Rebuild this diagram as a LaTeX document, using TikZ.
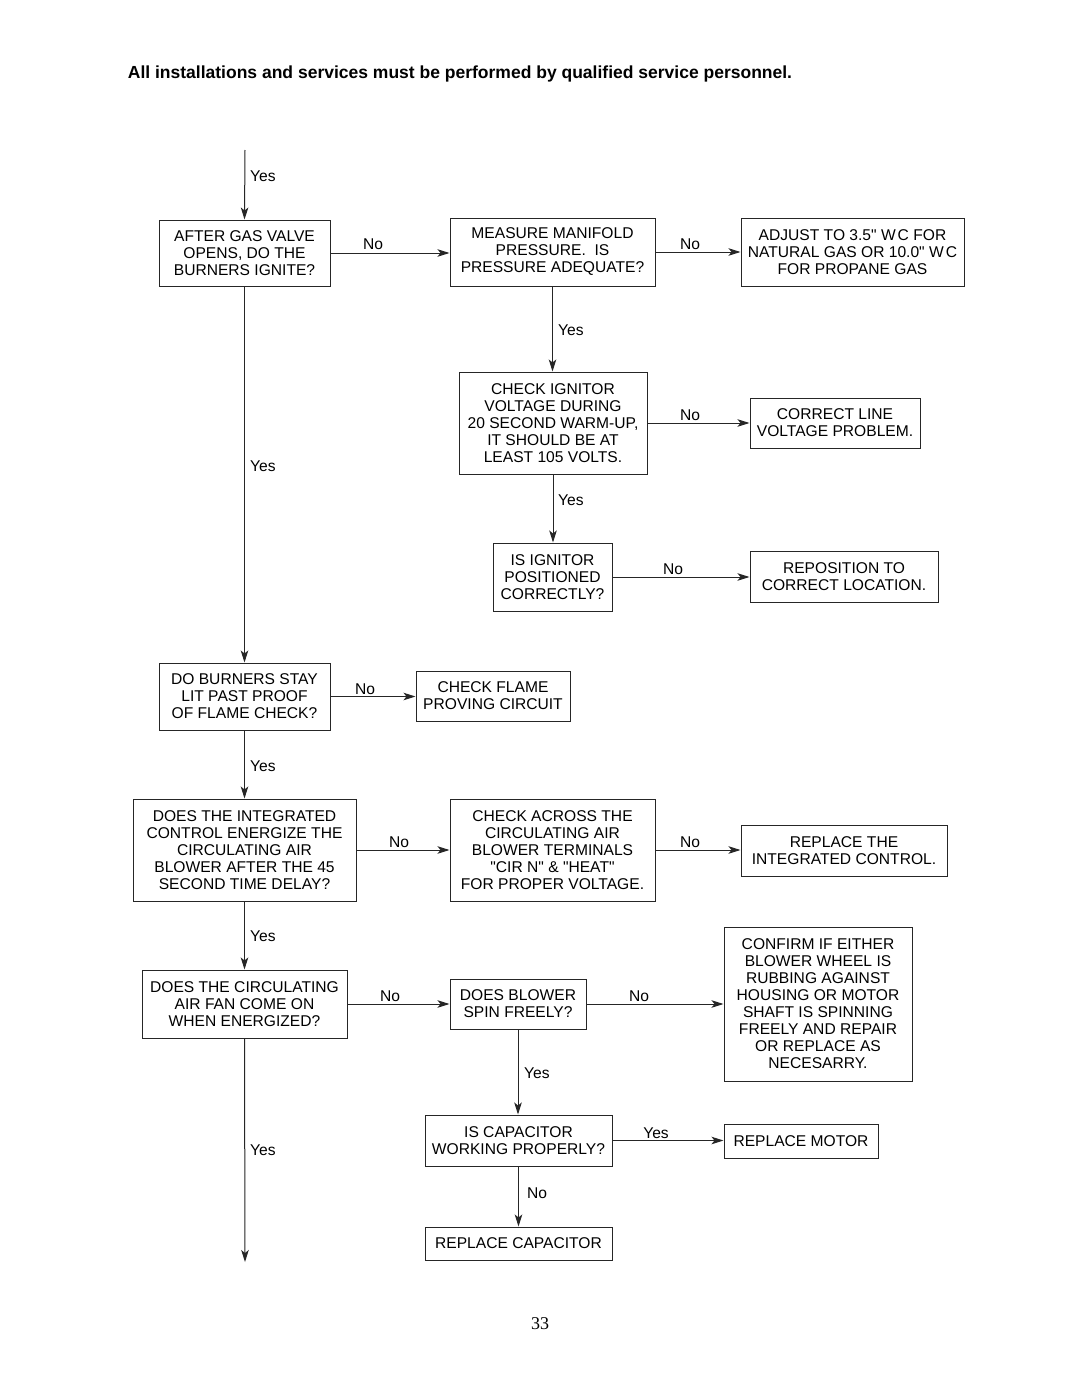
\documentclass[tikz,border=0pt]{standalone}
\usepackage{fontspec}
\setmainfont{Liberation Sans}[Ligatures=TeXOff]
\newfontfamily\pgserif{Liberation Serif}
\usetikzlibrary{arrows.meta}
\newcommand{\dq}{"}
\begin{document}
\begin{tikzpicture}[x=1pt,y=-1pt,
  box/.style={draw=black!85,line width=1pt,align=center,inner sep=0pt,
    font=\fontsize{15.6}{17}\selectfont},
  arr/.style={draw=black!85,line width=1pt,-{Stealth[length=12pt,width=7.5pt,inset=3pt]}},
  lbl/.style={font=\fontsize{15.6}{17}\selectfont,inner sep=0pt}]
\useasboundingbox (0,0) rectangle (1080,1397);
\fill[white] (0,0) rectangle (1080,1397);
\node[font=\bfseries\fontsize{17.5}{20}\selectfont,inner sep=0pt] (title) at (460,74)
  {All installations and services must be performed by qualified service personnel.};
% boxes
\node[box,minimum width=171,minimum height=66] (b1) at (244.5,253) {AFTER GAS VALVE\\OPENS, DO THE\\BURNERS IGNITE?};
\node[box,minimum width=205,minimum height=68] (b2) at (552.5,252) {MEASURE MANIFOLD\\PRESSURE.\ \ IS\\PRESSURE ADEQUATE?};
\node[box,minimum width=223,minimum height=68] (b3) at (852.5,252) {ADJUST TO 3.5\dq{} W\kern2pt C FOR\\NATURAL GAS OR 10.0\dq{} W\kern2pt C\\FOR PROPANE GAS};
\node[box,minimum width=188,minimum height=102] (b4) at (553,423) {CHECK IGNITOR\\VOLTAGE DURING\\20 SECOND WARM-UP,\\IT SHOULD BE AT\\LEAST 105 VOLTS.};
\node[box,minimum width=170,minimum height=50] (b5) at (835,423) {CORRECT LINE\\VOLTAGE PROBLEM.};
\node[box,minimum width=119,minimum height=68] (b6) at (552.5,577) {IS IGNITOR\\POSITIONED\\CORRECTLY?};
\node[box,minimum width=188,minimum height=51] (b7) at (844,576.5) {REPOSITION TO\\CORRECT LOCATION.};
\node[box,minimum width=171,minimum height=67] (b8) at (244.5,696.5) {DO BURNERS STAY\\LIT PAST PROOF\\OF FLAME CHECK?};
\node[box,minimum width=154,minimum height=50] (b9) at (493,696) {CHECK FLAME\\PROVING CIRCUIT};
\node[box,minimum width=223,minimum height=102] (b10) at (244.5,850) {DOES THE INTEGRATED\\CONTROL ENERGIZE THE\\CIRCULATING AIR\\BLOWER AFTER THE 45\\SECOND TIME DELAY?};
\node[box,minimum width=205,minimum height=102] (b11) at (552.5,850) {CHECK ACROSS THE\\CIRCULATING AIR\\BLOWER TERMINALS\\\dq{}CIR N\dq{} \& \dq{}HEAT\dq{}\\FOR PROPER VOLTAGE.};
\node[box,minimum width=206,minimum height=51] (b12) at (844,850.5) {REPLACE THE\\INTEGRATED CONTROL.};
\node[box,minimum width=188,minimum height=154] (b13) at (818,1004) {CONFIRM IF EITHER\\BLOWER WHEEL IS\\RUBBING AGAINST\\HOUSING OR MOTOR\\SHAFT IS SPINNING\\FREELY AND REPAIR\\OR REPLACE AS\\NECESARRY.};
\node[box,minimum width=205,minimum height=68] (b14) at (244.5,1004) {DOES THE CIRCULATING\\AIR FAN COME ON\\WHEN ENERGIZED?};
\node[box,minimum width=136,minimum height=50] (b15) at (518,1004) {DOES BLOWER\\SPIN FREELY?};
\node[box,minimum width=187,minimum height=51] (b16) at (518.5,1140.5) {IS CAPACITOR\\WORKING PROPERLY?};
\node[box,minimum width=154,minimum height=34] (b17) at (801,1141) {REPLACE MOTOR};
\node[box,minimum width=187,minimum height=33] (b18) at (518.5,1243.5) {REPLACE CAPACITOR};
% free ends
\coordinate (top) at (245,150);
\coordinate (bot) at (245,1262);
% connectors
\draw[arr] (top) -- (b1.north);
\draw[arr] (b1.east) -- (b1.east -| b2.west);
\draw[arr] (b2.east) -- (b2.east -| b3.west);
\draw[arr] (b2.south) -- (b2.south |- b4.north);
\draw[arr] (b4.east) -- (b4.east -| b5.west);
\draw[arr] (b4.south) -- (b4.south |- b6.north);
\draw[arr] (b6.east) -- (b6.east -| b7.west);
\draw[arr] (b1.south) -- (b1.south |- b8.north);
\draw[arr] (b8.east) -- (b8.east -| b9.west);
\draw[arr] (b8.south) -- (b8.south |- b10.north);
\draw[arr] (b10.east) -- (b10.east -| b11.west);
\draw[arr] (b11.east) -- (b11.east -| b12.west);
\draw[arr] (b10.south) -- (b10.south |- b14.north);
\draw[arr] (b14.east) -- (b14.east -| b15.west);
\draw[arr] (b15.east) -- (b15.east -| b13.west);
\draw[arr] (b15.south) -- (b15.south |- b16.north);
\draw[arr] (b16.east) -- (b16.east -| b17.west);
\draw[arr] (b16.south) -- (b16.south |- b18.north);
\draw[arr] (b14.south) -- (bot);
% labels
\node[lbl,anchor=west] (l1) at (250,176) {Yes};
\node[lbl] (l2) at (373,244) {No};
\node[lbl] (l3) at (690,244) {No};
\node[lbl,anchor=west] (l4) at (558,330) {Yes};
\node[lbl] (l5) at (690,415) {No};
\node[lbl,anchor=west] (l6) at (558,500) {Yes};
\node[lbl] (l7) at (673,569) {No};
\node[lbl,anchor=west] (l8) at (250,466) {Yes};
\node[lbl] (l9) at (365,689) {No};
\node[lbl,anchor=west] (l10) at (250,766) {Yes};
\node[lbl] (l11) at (399,842) {No};
\node[lbl] (l12) at (690,842) {No};
\node[lbl,anchor=west] (l13) at (250,936) {Yes};
\node[lbl] (l14) at (390,996) {No};
\node[lbl] (l15) at (639,996) {No};
\node[lbl,anchor=west] (l16) at (524,1073) {Yes};
\node[lbl] (l17) at (656,1133) {Yes};
\node[lbl,anchor=west] (l18) at (527,1193) {No};
\node[lbl,anchor=west] (l19) at (250,1150) {Yes};
\node[font=\pgserif\fontsize{18}{20}\selectfont,inner sep=0pt] (pg) at (540,1324) {33};
\end{tikzpicture}
\end{document}
